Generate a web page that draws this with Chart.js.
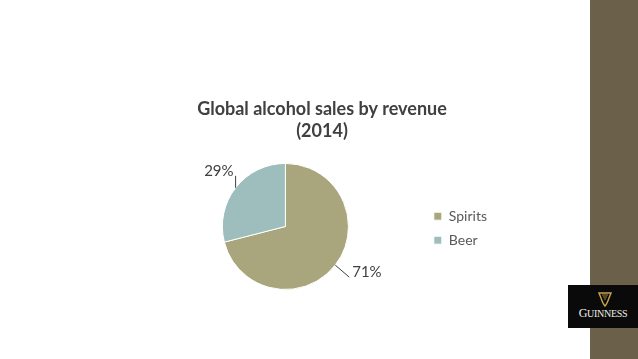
<!DOCTYPE html>
<html>
<head>
<meta charset="utf-8">
<script src="https://cdn.jsdelivr.net/npm/chart.js@4"></script>
<style>
  html, body { margin: 0; padding: 0; background: #fff; }
  body { width: 638px; height: 359px; position: relative; overflow: hidden; font-family: Lato, "Open Sans", sans-serif; }
  #strip { position: absolute; left: 590px; top: 0; width: 48px; height: 359px; background: #6b614b; }
  #logo { position: absolute; left: 568px; top: 285px; width: 70px; height: 43px; background: #0a0a0a; }
  #logo .name { position: absolute; left: 0; width: 70px; top: 21px; text-align: center; color: #f2efe6;
    font-family: "Liberation Serif", "DejaVu Serif", serif; font-size: 12px; letter-spacing: -0.3px; }
  #logo svg { position: absolute; left: 30px; top: 7px; }
  #wrap { position: absolute; left: 147px; top: 88px; width: 360px; height: 224px; }
</style>
</head>
<body>
<div id="strip"></div>
<div id="logo">
  <svg width="14" height="15" viewBox="0 0 14 15">
    <path d="M1 1 L13 1 L11 6 Q9 12 7 14 Q5 12 3 6 Z" fill="none" stroke="#c9a44a" stroke-width="1.4"/>
    <path d="M4 3 L10 3 M5 5 L9 5 M6 7 L8 7" stroke="#c9a44a" stroke-width="0.8"/>
  </svg>
  <div class="name">G<span style="font-size:10px">UINNESS</span></div>
</div>
<div id="wrap"><canvas id="pie"></canvas></div>
<script>
// --- data ---
const categories = ['Spirits', 'Beer'];
const shares = [71, 29];
const sliceColors = ['#a9a57c', '#9ebebe'];
const titleLines = ['Global alcohol sales by revenue', '(2014)'];

// leader line end offsets (px) from the slice edge
const leaderOffsets = [[14, 12], [0, -12]];

// --- percentage labels with leader lines ---
const leaderLabels = {
  id: 'leaderLabels',
  afterDatasetsDraw(chart) {
    const ctx = chart.ctx;
    const meta = chart.getDatasetMeta(0);
    ctx.save();
    ctx.font = '15px Lato, "Open Sans", sans-serif';
    ctx.fillStyle = '#404040';
    ctx.strokeStyle = '#404040';
    ctx.lineWidth = 1;
    meta.data.forEach((arc, i) => {
      const mid = (arc.startAngle + arc.endAngle) / 2;
      const sx = arc.x + Math.cos(mid) * arc.outerRadius;
      const sy = arc.y + Math.sin(mid) * arc.outerRadius;
      const ex = sx + leaderOffsets[i][0];
      const ey = sy + leaderOffsets[i][1];
      ctx.beginPath();
      ctx.moveTo(sx, sy);
      ctx.lineTo(ex, ey);
      ctx.stroke();
      const txt = shares[i] + '%';
      ctx.textBaseline = 'middle';
      if (leaderOffsets[i][0] > 0) {
        ctx.textAlign = 'left';
        ctx.fillText(txt, ex + 3, ey - 5);
      } else {
        ctx.textAlign = 'right';
        ctx.fillText(txt, ex - 2, ey - 5);
      }
    });
    ctx.restore();
  }
};

new Chart(document.getElementById('pie'), {
  type: 'pie',
  data: {
    labels: categories,
    datasets: [{
      data: shares,
      backgroundColor: sliceColors,
      borderColor: '#ffffff',
      borderWidth: 1
    }]
  },
  options: {
    responsive: true,
    maintainAspectRatio: false,
    animation: false,
    layout: { padding: { top: 0, bottom: 22, left: 0, right: 10 } },
    plugins: {
      title: {
        display: true,
        text: titleLines,
        color: '#404040',
        font: { family: 'Lato, "Open Sans", sans-serif', size: 18, weight: 'bold', lineHeight: 1.22 },
        padding: { top: 10, bottom: 21 }
      },
      legend: {
        position: 'right',
        title: { display: true, text: '', padding: { top: 0, bottom: 64 } },
        labels: {
          color: '#595959',
          font: { family: 'Lato, "Open Sans", sans-serif', size: 14 },
          boxWidth: 8,
          boxHeight: 8,
          padding: 10
        }
      },
      tooltip: { enabled: false }
    }
  },
  plugins: [leaderLabels]
});
</script>
</body>
</html>
